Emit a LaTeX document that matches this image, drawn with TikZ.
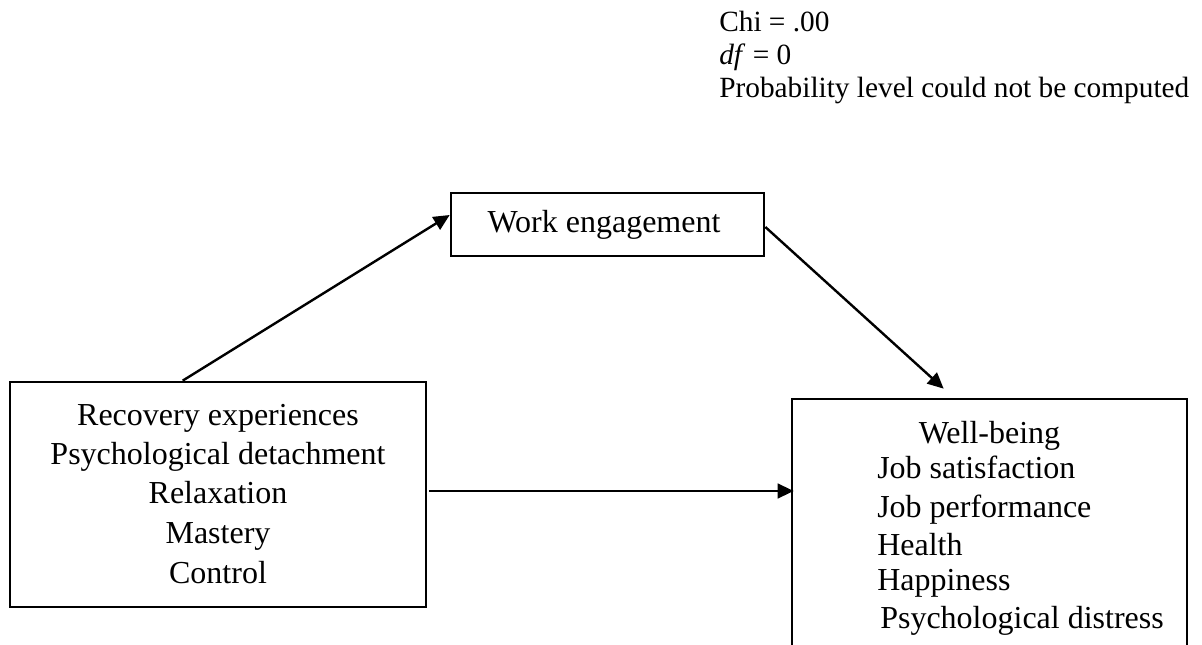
\documentclass[tikz,border=0pt]{standalone}
\usepackage{fontspec}
\setmainfont{Liberation Serif}
\usetikzlibrary{arrows.meta,calc}
\begin{document}
\begin{tikzpicture}[x=0.75pt,y=-0.75pt,
  box/.style={draw,line width=2pt,inner sep=0pt,rectangle},
  body/.style={font=\fontsize{24}{28}\selectfont,inner sep=0pt},
  note/.style={font=\fontsize{22}{26}\selectfont,inner sep=0pt,anchor=base west},
  link/.style={line width=1.8pt,-{Triangle[length=12pt,width=11pt]}}]
\clip (0,0) rectangle (1202,645);

% model fit summary
\node[note] (chi)  at (719,32) {Chi = .00};
\node[note] (df)   at (719,65) {\textit{df} = 0};
\node[note] (prob) at (719,98) {Probability level could not be computed};

% predictor box
\node[box,minimum width=312pt,minimum height=168.75pt] (rec) at (218,494.5) {};
\foreach \t/\y [count=\i] in {Recovery experiences/425,Psychological detachment/464,Relaxation/503.5,Mastery/543,Control/583}
  \node[body,anchor=base] (rec\i) at (218,\y) {\t};

% mediator box
\node[box,minimum width=234.75pt,minimum height=47.25pt] (we) at (607.5,224.5) {};
\node[body,anchor=base] (wetext) at (604,233) {Work engagement};

% outcome box (runs past the lower edge)
\node[box,minimum width=296.25pt,minimum height=225.75pt] (wb) at (989.5,549.5) {};
\node[body,anchor=base] (wbtitle) at (989.5,443) {Well-being};
\foreach \t/\y [count=\i] in {Job satisfaction/478,Job performance/517,Health/555,Happiness/590.5}
  \node[body,anchor=base west] (wb\i) at (877,\y) {\t};
\node[body,anchor=base west] (wb5) at (880,628) {Psychological distress};

% paths
\coordinate (h0) at ($(rec.east)+(2,-3.5)$);
\draw[link] ($(rec.north west)+(174,0)$) -- ($(we.west)+(0,-9.5)$);
\draw[link] ($(we.east)+(0,2.5)$) -- ($(wb.north west)+(153,-9)$);
\draw[link] (h0) -- ($(h0 -| wb.west)+(3,0)$);
\end{tikzpicture}
\end{document}
